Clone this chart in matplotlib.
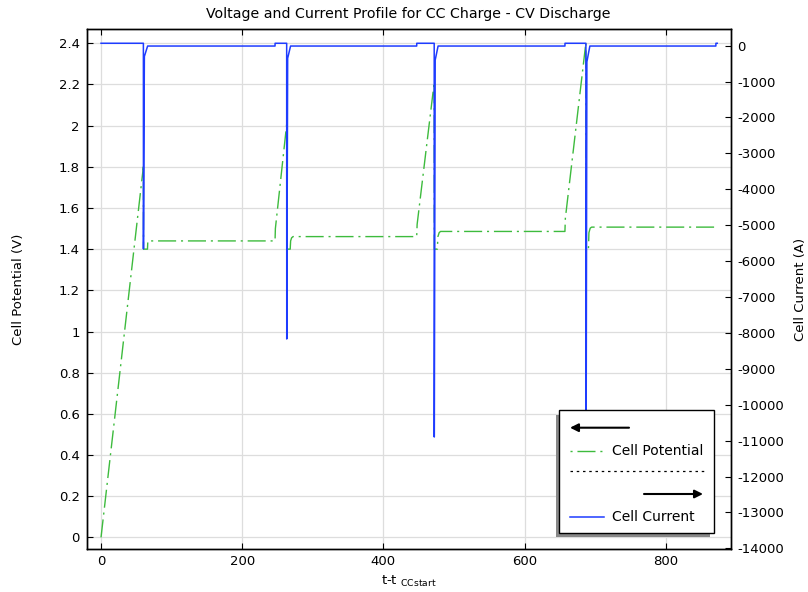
import matplotlib
matplotlib.use('Agg')
import matplotlib.pyplot as plt
from matplotlib.patches import Rectangle
from matplotlib.lines import Line2D
from matplotlib.ticker import FuncFormatter

# =========================================================
# data
# =========================================================

# cell potential (V) vs t - t_CCstart
time_v = [0.0, 60.0, 60.2, 65.8, 66.3,
          246.5, 247.0, 263.0, 263.2, 268.0, 268.6, 270.0, 272.0,
          447.2, 447.8, 472.0, 472.2, 476.5, 477.2, 479.0, 481.0,
          657.2, 657.8, 686.9, 687.1, 690.5, 691.2, 693.0, 695.0,
          872.0]
potential = [0.0, 1.80, 1.40, 1.40, 1.44,
             1.44, 1.50, 2.006, 1.40, 1.40, 1.44, 1.455, 1.461,
             1.461, 1.52, 2.209, 1.40, 1.40, 1.46, 1.48, 1.486,
             1.486, 1.55, 2.403, 1.40, 1.40, 1.48, 1.502, 1.507,
             1.507]

# cell current (A)
time_i = [0.0, 60.0, 60.1, 61.4, 66.0,
          246.5, 246.6, 263.0, 263.1, 264.4, 268.5,
          447.2, 447.3, 472.0, 472.1, 473.4, 477.5,
          657.2, 657.3, 686.9, 687.0, 688.3, 692.5,
          871.0, 871.1, 873.0]
current = [67, 67, -5660, -300, -10,
           -10, 67, 67, -8170, -350, -10,
           -10, 67, 67, -10900, -400, -10,
           -10, 67, 67, -13300, -450, -10,
           -10, 67, 67]

v_ticks = [0, 0.2, 0.4, 0.6, 0.8, 1.0, 1.2, 1.4, 1.6, 1.8, 2.0, 2.2, 2.4]
i_ticks = list(range(0, -14001, -1000))
t_ticks = [0, 200, 400, 600, 800]

GREEN = '#3dbb3d'
BLUE = '#1e3cff'
FS = 9.5

plt.rcParams['axes.unicode_minus'] = False
plt.rcParams['font.size'] = FS

fig = plt.figure(figsize=(8.08, 5.92), dpi=100)
ax1 = fig.add_axes([0.1073, 0.0721, 0.9043 - 0.1073, 0.9502 - 0.0721])
ax2 = ax1.twinx()

# --- potential (left axis) ---
ax1.plot(time_v, potential, color=GREEN, lw=1.0, dashes=(13, 3.5, 1.5, 3.5))
ax1.set_xlim(-20.3, 892)
ax1.set_ylim(-0.058, 2.467)
ax1.set_yticks(v_ticks)
ax1.yaxis.set_major_formatter(FuncFormatter(lambda v, p: f'{v:g}'))
ax1.set_xticks(t_ticks)
ax1.grid(True, color='#dddddd', lw=0.9)
ax1.set_axisbelow(True)
ax1.tick_params(axis='x', direction='in', top=True, length=4, pad=4)
ax1.tick_params(axis='y', direction='in', length=4, pad=5)
ax1.set_ylabel('Cell Potential (V)', labelpad=24)
ax1.set_xlabel(r't-t $_{\mathregular{CCstart}}$', labelpad=4)
ax1.set_title('Voltage and Current Profile for CC Charge - CV Discharge',
              fontsize=10.2, pad=8)

# --- current (right axis) ---
ax2.plot(time_i, current, color=BLUE, lw=1.1)
ax2.set_ylim(-14028, 451)
ax2.set_yticks(i_ticks)
ax2.tick_params(axis='y', direction='in', length=4, pad=5)
ax2.set_ylabel('Cell Current (A)', labelpad=7)

for ax in (ax1, ax2):
    for s in ax.spines.values():
        s.set_linewidth(1.0)

# --- legend box (drawn by hand, like the original with arrows) ---
lw_px, lh_px = 154.7, 122.7
lax = fig.add_axes([559.3 / 808, 1 - 532.7 / 592, lw_px / 808, lh_px / 592])
lax.set_xlim(0, lw_px)
lax.set_ylim(lh_px, 0)
lax.axis('off')
lax.add_patch(Rectangle((-3.5, 4.5), lw_px, lh_px, facecolor='#888888',
                        edgecolor='none', clip_on=False, zorder=0))
lax.add_patch(Rectangle((0, 0), lw_px, lh_px, facecolor='white',
                        edgecolor='black', lw=1.0, clip_on=False, zorder=1))
lax.annotate('', xy=(10.7, 17.7), xytext=(69.7, 17.7),
             arrowprops=dict(arrowstyle='-|>', color='black', lw=1.5,
                             mutation_scale=12, shrinkA=0, shrinkB=0), zorder=2)
lax.add_line(Line2D([10.7, 43.7], [41, 41], color=GREEN, lw=1.0,
                    dashes=(1.5, 3.5, 13, 3.5), zorder=2))
lax.text(52.4, 41, 'Cell Potential', va='center', ha='left', fontsize=10, zorder=2)
lax.add_line(Line2D([10.7, 144.7], [61, 61], color='black', lw=0.9,
                    linestyle=(0, (2, 3)), zorder=2))
lax.annotate('', xy=(143.7, 84), xytext=(84.7, 84),
             arrowprops=dict(arrowstyle='-|>', color='black', lw=1.5,
                             mutation_scale=12, shrinkA=0, shrinkB=0), zorder=2)
lax.add_line(Line2D([10.7, 44.7], [106.7, 106.7], color=BLUE, lw=1.1, zorder=2))
lax.text(52.4, 106.7, 'Cell Current', va='center', ha='left', fontsize=10, zorder=2)

fig.savefig('out.png', dpi=100)
